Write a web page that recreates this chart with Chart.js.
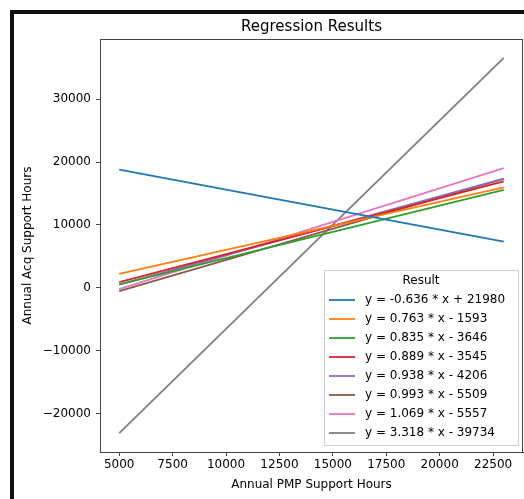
<!DOCTYPE html>
<html>
<head>
<meta charset="utf-8">
<script src="https://cdn.jsdelivr.net/npm/chart.js@4/dist/chart.umd.min.js"></script>
<style>
  html, body { margin: 0; padding: 0; background: #fff; overflow: hidden; }
  #chart { display: block; }
</style>
</head>
<body>
<canvas id="chart" width="524" height="499"></canvas>
<script>
// x positions where each regression line is evaluated
const xValues = [5000, 23000];
const seriesLabels = [
  "y = -0.636 * x + 21980",
  "y = 0.763 * x - 1593",
  "y = 0.835 * x - 3646",
  "y = 0.889 * x - 3545",
  "y = 0.938 * x - 4206",
  "y = 0.993 * x - 5509",
  "y = 1.069 * x - 5557",
  "y = 3.318 * x - 39734"
];
// y at x = 5000 and x = 23000 for each line
const seriesValues = [
  [18800, 7352],
  [2222, 15956],
  [529, 15559],
  [900, 16902],
  [484, 17368],
  [-544, 17330],
  [-212, 19030],
  [-23144, 36580]
];
const xTicks = [5000, 7500, 10000, 12500, 15000, 17500, 20000, 22500];
const yTicks = [-20000, -10000, 0, 10000, 20000, 30000];
const chartTitle = "Regression Results";

const colors = ["#1f77b4", "#ff7f0e", "#2ca02c", "#d62728", "#9467bd", "#8c564b", "#e377c2", "#7f7f7f"];
const FONT = "'DejaVu Sans', sans-serif";

Chart.defaults.font.family = FONT;
Chart.defaults.font.size = 12;
Chart.defaults.color = "#000";

const datasets = seriesValues.map((vals, i) => ({
  label: seriesLabels[i],
  data: vals.map((v, j) => ({ x: xValues[j], y: v })),
  borderColor: colors[i],
  backgroundColor: colors[i],
  borderWidth: 1.8,
  showLine: true,
  pointRadius: 0,
  fill: false
}));

//black screenshot edge on the left and top
const edgePlugin = {
  id: "edge",
  beforeDraw(chart) {
    const ctx = chart.ctx;
    ctx.save();
    ctx.fillStyle = "#111";
    ctx.fillRect(10, 10, 4, 489);
    ctx.fillRect(14, 10, 510, 4);
    ctx.restore();
  }
};

//top and right spines + title centered over the plot
const framePlugin = {
  id: "frame",
  beforeDatasetsDraw(chart) {
    const ca = chart.chartArea;
    const ctx = chart.ctx;
    ctx.save();
    ctx.strokeStyle = "#444";
    ctx.lineWidth = 1;
    ctx.strokeRect(Math.round(ca.left) + 0.5, Math.round(ca.top) + 0.5,
      Math.round(ca.right - ca.left) - 1, Math.round(ca.bottom - ca.top));

    ctx.font = "15px " + FONT;
    ctx.fillStyle = "#000";
    ctx.textAlign = "center";
    ctx.textBaseline = "alphabetic";
    ctx.fillText(chartTitle, (ca.left + ca.right) / 2, 31);
    ctx.restore();
  }
};

//legend inside the plot, lower right
const innerLegend = {
  id: "innerLegend",
  afterDatasetsDraw(chart) {
    const ca = chart.chartArea;
    const ctx = chart.ctx;
    const w = 194, h = 175;
    const right = ca.right - 5, bottom = ca.bottom - 7;
    const left = right - w, top = bottom - h;
    ctx.save();
    ctx.fillStyle = "rgba(255,255,255,0.85)";
    ctx.strokeStyle = "#cccccc";
    ctx.lineWidth = 1;
    ctx.fillRect(left, top, w, h);
    ctx.strokeRect(left + 0.5, top + 0.5, w, h);

    ctx.font = "12px " + FONT;
    ctx.fillStyle = "#000";
    ctx.textBaseline = "middle";
    ctx.textAlign = "center";
    ctx.fillText("Result", left + w / 2, top + 11);

    ctx.textAlign = "left";
    chart.data.datasets.forEach((ds, i) => {
      const y = top + 30 + i * 19;
      ctx.strokeStyle = ds.borderColor;
      ctx.lineWidth = 1.8;
      ctx.beginPath();
      ctx.moveTo(left + 5, y);
      ctx.lineTo(left + 31, y);
      ctx.stroke();
      ctx.fillStyle = "#000";
      ctx.fillText(ds.label, left + 41, y);
    });
    ctx.restore();
  }
};

const minus = (v) => String(v).replace("-", "\u2212");

new Chart(document.getElementById("chart"), {
  type: "scatter",
  data: { datasets: datasets },
  options: {
    responsive: false,
    devicePixelRatio: 1,
    animation: false,
    layout: { padding: { left: 0, right: 1, top: 39, bottom: 0 } },
    plugins: {
      legend: { display: false },
      tooltip: { enabled: false },
      title: { display: false }
    },
    scales: {
      x: {
        type: "linear",
        min: 4100,
        max: 23900,
        afterBuildTicks: (scale) => { scale.ticks = xTicks.map(v => ({ value: v })); },
        afterFit: (scale) => { scale.height = 47; },
        grid: { drawOnChartArea: false, drawTicks: true, tickLength: 4, tickColor: "#444" },
        border: { display: true, color: "#444", width: 1 },
        ticks: { padding: 2, maxRotation: 0, autoSkip: false, callback: (v) => minus(v) },
        title: {
          display: true,
          text: "Annual PMP Support Hours",
          font: { size: 12, lineHeight: 1.2 },
          padding: { top: 0, bottom: 7 }
        }
      },
      y: {
        type: "linear",
        min: -26130,
        max: 39566,
        afterBuildTicks: (scale) => { scale.ticks = yTicks.map(v => ({ value: v })); },
        afterFit: (scale) => { scale.width = 100; },
        grid: { drawOnChartArea: false, drawTicks: true, tickLength: 4, tickColor: "#444" },
        border: { display: true, color: "#444", width: 1 },
        ticks: { padding: 5, autoSkip: false, callback: (v) => minus(v) },
        title: {
          display: true,
          text: "Annual Acq Support Hours",
          font: { size: 12, lineHeight: 1.2 },
          padding: { top: 21, bottom: 0 }
        }
      }
    }
  },
  plugins: [edgePlugin, framePlugin, innerLegend]
});
</script>
</body>
</html>
